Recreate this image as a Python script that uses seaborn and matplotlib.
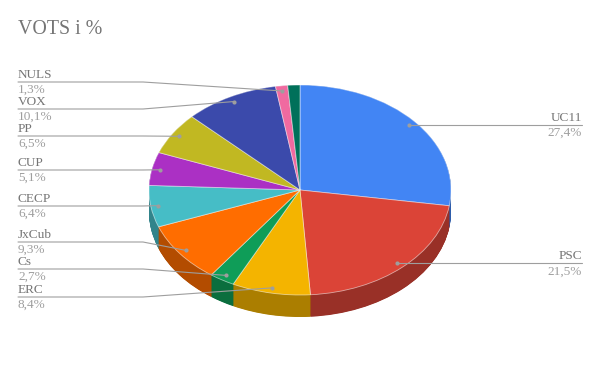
import matplotlib
matplotlib.use('Agg')
import matplotlib.pyplot as plt
import seaborn as sns
import numpy as np
from matplotlib.colors import to_rgb

sns.set_theme(style='white')
plt.rcParams['font.family'] = ['Liberation Serif', 'DejaVu Serif']

# ---- data ----
parties = ['UC11', 'PSC', 'ERC', 'Cs', 'JxCub', 'CECP', 'CUP', 'PP', 'VOX', 'NULS', '']
votes = [27.4, 21.5, 8.4, 2.7, 9.3, 6.4, 5.1, 6.5, 10.1, 1.3, 1.3]
colors = ['#4285f4', '#db4437', '#f4b400', '#0f9d58', '#ff6d00', '#46bdc6',
          '#ab30c4', '#c1b822', '#3b4aab', '#f06aa0', '#00705a']
title = 'VOTS i %'

# ---- layout (pixel space) ----
W, H = 600, 371
CX, CY, RX, RY = 300, 190, 151, 105
DEPTH = 22
left_line_y = {'NULS': 82, 'VOX': 109, 'PP': 136, 'CUP': 170,
               'CECP': 206, 'JxCub': 242, 'Cs': 269, 'ERC': 297}
right_side = ['UC11', 'PSC']


def X(px):
    return (px - CX) / RX


def Y(py):
    return (CY - py) / RY


fig = plt.figure(figsize=(W / 100, H / 100), dpi=100)
ax = fig.add_axes([0, 0, 1, 1])

dark = [tuple(c * 0.7 for c in to_rgb(col)) for col in colors]
depth = DEPTH / RY
for d in np.arange(depth, 0, -0.004):
    ax.pie(votes, colors=dark, startangle=90, counterclock=False,
           center=(0, -d), radius=1, wedgeprops=dict(linewidth=0))

ax.pie(votes, colors=colors, startangle=90, counterclock=False,
       center=(0, 0), radius=1,
       wedgeprops=dict(linewidth=0.6, edgecolor=(1, 1, 1, 0.55)))

ax.set_aspect('auto')
ax.set_xlim(X(0), X(W))
ax.set_ylim(Y(H), Y(0))
ax.axis('off')

total = float(sum(votes))
cum = np.cumsum([0] + votes)
line_col = '#9e9e9e'
name_col = '#757575'
pct_col = '#9e9e9e'
fs = 9.5

for i, name in enumerate(parties):
    if not name:
        continue
    mid = (cum[i] + votes[i] / 2) / total * 2 * np.pi
    dx, dy = 0.95 * np.sin(mid), 0.95 * np.cos(mid)
    pct = f"{votes[i]:.1f}".replace('.', ',') + '%'
    if name in right_side:
        ly_px = CY - dy * RY
        ax.plot([dx, X(582)], [dy, dy], color=line_col, lw=0.8, zorder=5)
        ax.text(X(582), Y(ly_px - 4), name, ha='right', va='baseline',
                fontsize=fs, color=name_col, zorder=6)
        ax.text(X(582), Y(ly_px + 11), pct, ha='right', va='baseline',
                fontsize=fs, color=pct_col, zorder=6)
    else:
        ly = left_line_y[name]
        ax.plot([X(18), X(143), dx], [Y(ly), Y(ly), dy], color=line_col,
                lw=0.8, zorder=5)
        ax.text(X(18), Y(ly - 4), name, ha='left', va='baseline',
                fontsize=fs, color=name_col, zorder=6)
        ax.text(X(18), Y(ly + 11), pct, ha='left', va='baseline',
                fontsize=fs, color=pct_col, zorder=6)
    ax.plot([dx], [dy], marker='o', ms=3, color=line_col, mec='none', zorder=7)

ax.text(X(18), Y(34), title, ha='left', va='baseline', fontsize=14.3,
        color=name_col)

fig.savefig('out.png', dpi=100)
